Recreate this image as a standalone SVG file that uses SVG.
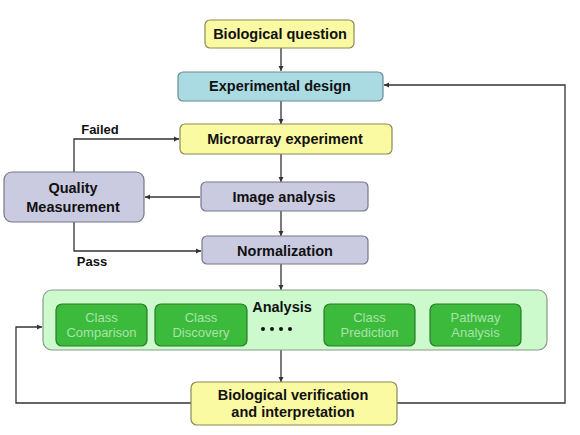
<svg xmlns="http://www.w3.org/2000/svg" width="580" height="435" viewBox="0 0 580 435">
<style>
.t{font-family:"Liberation Sans",Arial,sans-serif;font-size:14.5px;font-weight:bold;fill:#111;text-anchor:middle}
.s{font-family:"Liberation Sans",Arial,sans-serif;font-size:13px;fill:#a8e4a8;text-anchor:middle}
.yel{fill:#fafaa2;stroke:#8a8a55;stroke-width:1.2}
.blu{fill:#aadbe3;stroke:#6a8a95;stroke-width:1.2}
.gry{fill:#cacae0;stroke:#77778a;stroke-width:1.2}
.sub{fill:#3cba3c;stroke:#2a7a2a;stroke-width:1.2}
.c{fill:none;stroke:#333;stroke-width:1.3}
</style>
<defs>
<marker id="a" markerWidth="6" markerHeight="6" refX="5" refY="3" orient="auto" markerUnits="userSpaceOnUse">
<path d="M0,0.5 L5,3 L0,5.5 z" fill="#333"/>
</marker>
</defs>
<rect width="580" height="435" fill="#fff"/>
<g id="connectors">
<path class="c" d="M281,48 V71" marker-end="url(#a)"/>
<path class="c" d="M281,101 V124" marker-end="url(#a)"/>
<path class="c" d="M281,154 V182" marker-end="url(#a)"/>
<path class="c" d="M281,211 V236" marker-end="url(#a)"/>
<path class="c" d="M281,264 V290" marker-end="url(#a)"/>
<path class="c" d="M281,350 V382" marker-end="url(#a)"/>
<path class="c" d="M200,197 H145" marker-end="url(#a)"/>
<path class="c" d="M74,172 V139 H179" marker-end="url(#a)"/>
<path class="c" d="M74,222 V251 H201" marker-end="url(#a)"/>
<path class="c" d="M397,403 H565 V85 H384" marker-end="url(#a)"/>
<path class="c" d="M191,403 H16 V327 H42" marker-end="url(#a)"/>
<text class="t" x="100" y="134" style="font-size:13px">Failed</text>
<text class="t" x="92" y="266" style="font-size:13px">Pass</text>
</g>
<g id="bio-question">
<rect class="yel" x="205" y="20" width="149" height="28" rx="5"/>
<text class="t" x="280" y="39">Biological question</text>
</g>
<g id="exp-design">
<rect class="blu" x="178" y="72" width="205" height="29" rx="5"/>
<text class="t" x="280" y="91">Experimental design</text>
</g>
<g id="microarray">
<rect class="yel" x="180" y="124" width="212" height="30" rx="5"/>
<text class="t" x="285" y="144">Microarray experiment</text>
</g>
<g id="image-analysis">
<rect class="gry" x="201" y="182" width="167" height="29" rx="5"/>
<text class="t" x="284" y="202">Image analysis</text>
</g>
<g id="quality">
<rect class="gry" x="4" y="172" width="140" height="50" rx="8"/>
<text class="t" x="73" y="193">Quality</text>
<text class="t" x="73" y="212">Measurement</text>
</g>
<g id="normalization">
<rect class="gry" x="202" y="236" width="166" height="28" rx="5"/>
<text class="t" x="285" y="256">Normalization</text>
</g>
<g id="analysis">
<rect x="43" y="290" width="504" height="60" rx="9" fill="#cdfacd" stroke="#8a9a8a" stroke-width="1.2"/>
<text class="t" x="282" y="312">Analysis</text>
<g fill="#111">
<circle cx="263" cy="329" r="2"/><circle cx="272" cy="329" r="2"/><circle cx="281" cy="329" r="2"/><circle cx="290" cy="329" r="2"/>
</g>
</g>
<g id="class-comparison">
<rect class="sub" x="56" y="304" width="91" height="42" rx="6"/>
<text class="s" x="101.5" y="322">Class</text>
<text class="s" x="101.5" y="337">Comparison</text>
</g>
<g id="class-discovery">
<rect class="sub" x="155" y="304" width="92" height="42" rx="6"/>
<text class="s" x="201" y="322">Class</text>
<text class="s" x="201" y="337">Discovery</text>
</g>
<g id="class-prediction">
<rect class="sub" x="324" y="304" width="91" height="42" rx="6"/>
<text class="s" x="369.5" y="322">Class</text>
<text class="s" x="369.5" y="337">Prediction</text>
</g>
<g id="pathway-analysis">
<rect class="sub" x="430" y="304" width="91" height="42" rx="6"/>
<text class="s" x="475.5" y="322">Pathway</text>
<text class="s" x="475.5" y="337">Analysis</text>
</g>
<g id="bio-verification">
<rect class="yel" x="191" y="382" width="206" height="43" rx="6"/>
<text class="t" x="293" y="400">Biological verification</text>
<text class="t" x="293" y="417">and interpretation</text>
</g>
</svg>
